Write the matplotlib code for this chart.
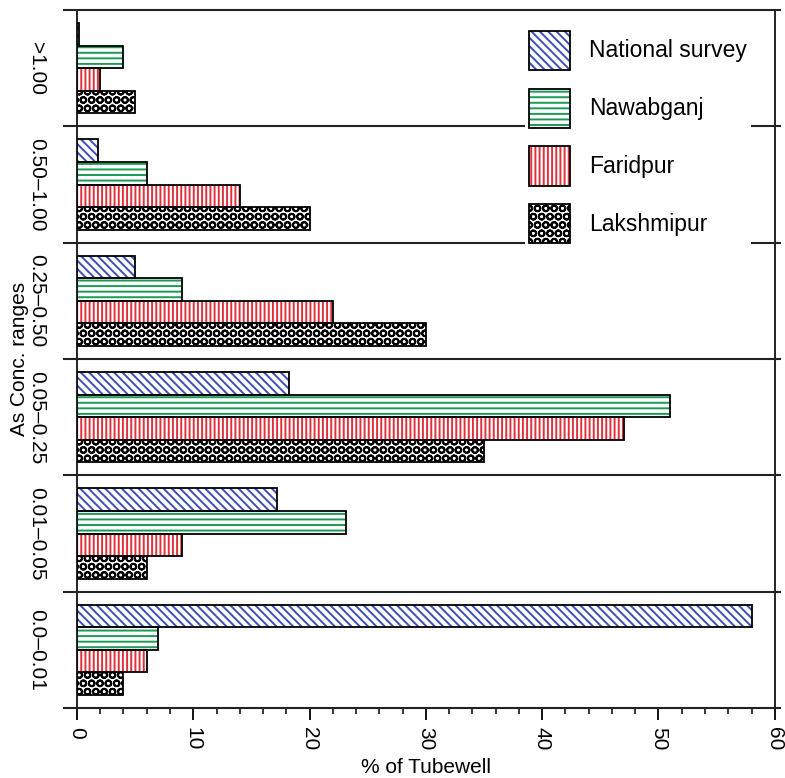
import matplotlib
matplotlib.use('Agg')
import matplotlib.pyplot as plt
from matplotlib.patches import Patch
from matplotlib.legend_handler import HandlerTuple
from matplotlib.ticker import MultipleLocator

plt.rcParams['font.family'] = ['Liberation Sans', 'DejaVu Sans']
plt.rcParams['hatch.linewidth'] = 1.4

# arsenic concentration ranges (top to bottom) and % of tubewells per survey
ranges = ['>1.00', '0.50–1.00', '0.25–0.50', '0.05–0.25', '0.01–0.05', '0.0–0.01']
national = [0.2, 1.8, 5, 18.2, 17.2, 58]
nawabganj = [4, 6, 9, 51, 23.1, 7]
faridpur = [2, 14, 22, 47, 9, 6]
lakshmipur = [5, 20, 30, 35, 6, 4]

names = ['National survey', 'Nawabganj', 'Faridpur', 'Lakshmipur']
colors = ['#3d4fb5', '#1a9a55', '#e2303a', 'black']
hatches = ['\\\\\\\\', '---', '||||', 'OO']

fig = plt.figure(figsize=(7.85, 7.78), dpi=100)
ax = fig.add_axes([0.098, 0.090, 0.889, 0.897])

h = 0.194
handles = []
for k, vals in enumerate([national, nawabganj, faridpur, lakshmipur]):
    ys = [i + 0.5 + (k - 1.5) * h for i in range(len(ranges))]
    # hatch in the series colour, outline in black on top
    ax.barh(ys, vals, height=h, color='white', edgecolor=colors[k],
            hatch=hatches[k], linewidth=0, zorder=3)
    ax.barh(ys, vals, height=h, fill=False, edgecolor='black',
            linewidth=1.3, zorder=4)
    handles.append((Patch(facecolor='white', edgecolor=colors[k], hatch=hatches[k], lw=0),
                    Patch(facecolor='none', edgecolor='black', lw=1.3)))

# group separators running a little past both spines
for b in range(len(ranges) + 1):
    ax.axhline(b, xmin=-0.018, xmax=1.008, color='#222222', lw=1.5,
               clip_on=False, zorder=2)

ax.set_xlim(0, 60)
ax.set_ylim(len(ranges), 0)
for s in ax.spines.values():
    s.set_linewidth(1.4)
    s.set_color('#222222')

ax.set_yticks([i + 0.5 for i in range(len(ranges))])
ax.set_yticklabels(ranges, rotation=-90, va='center', ha='center', fontsize=15)
ax.tick_params(axis='y', length=0, pad=29)

ax.xaxis.set_major_locator(MultipleLocator(10))
ax.xaxis.set_minor_locator(MultipleLocator(2))
ax.tick_params(axis='x', which='major', length=8.6, width=1.3, labelsize=15, pad=5)
ax.tick_params(axis='x', which='minor', length=4.3, width=1.1)
for lab in ax.get_xticklabels():
    lab.set_rotation(-90)
    lab.set_va('top')

ax.set_xlabel('% of Tubewell', fontsize=15)
ax.xaxis.set_label_coords(0.5, -0.086)
ax.xaxis.label.set_va('center')
ax.set_ylabel('As Conc. ranges', fontsize=15)
ax.yaxis.set_label_coords(-0.083, 0.5)
ax.yaxis.label.set_va('center')

leg = ax.legend(handles, names, handler_map={tuple: HandlerTuple(ndivide=1)},
                loc='upper left', bbox_to_anchor=(0.626, 0.992), fontsize=16.5,
                handlelength=1.8, handleheight=2.25, labelspacing=0.82,
                handletextpad=0.85, borderpad=0.15, frameon=True, fancybox=False,
                framealpha=1)
leg.get_frame().set_edgecolor('none')
leg.get_frame().set_facecolor('white')
leg.set_zorder(6)

fig.savefig('out.png', dpi=100)
